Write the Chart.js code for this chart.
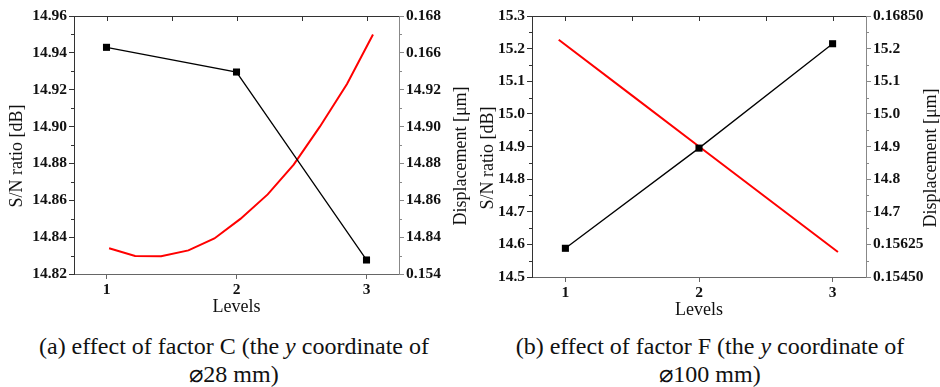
<!DOCTYPE html>
<html>
<head>
<meta charset="utf-8">
<script src="https://cdn.jsdelivr.net/npm/chart.js@4.4.0/dist/chart.umd.min.js"></script>
<style>
  body { margin: 0; background: #fff; width: 940px; height: 387px; position: relative; overflow: hidden; font-family: 'Liberation Serif', serif; }
  canvas { position: absolute; top: 0; }
  #chartC { left: 0; }
  #chartF { left: 470px; }
  .cap { position: absolute; top: 332px; width: 470px; text-align: center; font-size: 24px; line-height: 28px; color: #111; }
</style>
</head>
<body>
<canvas id="chartC" width="470" height="320"></canvas>
<canvas id="chartF" width="470" height="320"></canvas>
<div class="cap" style="left:-1px">(a) effect of factor C (the <i>y</i> coordinate of<br>⌀28 mm)</div>
<div class="cap" style="left:475px">(b) effect of factor F (the <i>y</i> coordinate of<br>⌀100 mm)</div>

<script>
// -----------------------
// Data
// -----------------------

// levels of each factor (x axis)
const levels = [1, 2, 3];

// (a) factor C
const snRatioC = [14.943, 14.9296, 14.8276];
const fitLevelsC = [1.02, 1.22, 1.42, 1.63, 1.83, 2.03, 2.24, 2.44, 2.64, 2.85, 3.05];
const displacementC = [0.15540, 0.15498, 0.15496, 0.15528, 0.15593, 0.15699, 0.15832, 0.15994, 0.16198, 0.16431, 0.16700];
const snTicksC = [14.82, 14.84, 14.86, 14.88, 14.90, 14.92, 14.94, 14.96];
const dispTicksC = [0.154, 0.156, 0.158, 0.160, 0.162, 0.164, 0.166, 0.168];
const dispLabelsC = ['0.154', '14.84', '14.86', '14.88', '14.90', '14.92', '0.166', '0.168'];

// (b) factor F
const snRatioF = [14.588, 14.895, 15.215];
const fitLevelsF = [0.95, 1.5, 2, 2.5, 3.04];
const displacementF = [0.16723, 0.16423, 0.16150, 0.15878, 0.15584];
const snTicksF = [14.5, 14.6, 14.7, 14.8, 14.9, 15.0, 15.1, 15.2, 15.3];
const dispTicksF = [0.1545, 0.15625, 0.158, 0.15975, 0.1615, 0.16325, 0.165, 0.16675, 0.1685];
const dispLabelsF = ['0.15450', '0.15625', '14.7', '14.8', '14.9', '15.0', '15.1', '15.2', '0.16850'];

// -----------------------
// Extra axis bits: top frame, minor ticks, y titles (bottom-to-top on both sides)
// -----------------------
const axisExtras = {
  id: 'axisExtras',
  afterDraw(chart, args, opts) {
    const { ctx, chartArea: a, scales } = chart;
    ctx.save();
    ctx.lineWidth = 1;

    // top frame line with inward ticks every half level
    ctx.strokeStyle = '#333';
    ctx.beginPath();
    ctx.moveTo(a.left, a.top + 0.5);
    ctx.lineTo(a.right, a.top + 0.5);
    for (let v = 1; v <= 3; v += 0.5) {
      const px = Math.round(scales.x.getPixelForValue(v)) + 0.5;
      ctx.moveTo(px, a.top);
      ctx.lineTo(px, a.top + 5);
    }
    ctx.stroke();

    // minor ticks halfway between the labelled ones
    [['y', -1, '#333'], ['y2', 1, '#888']].forEach(([id, dir, col]) => {
      const s = scales[id];
      const x0 = dir < 0 ? s.right : s.left;
      ctx.strokeStyle = col;
      ctx.beginPath();
      for (let i = 0; i < s.ticks.length - 1; i++) {
        const mid = (s.ticks[i].value + s.ticks[i + 1].value) / 2;
        const py = Math.round(s.getPixelForValue(mid)) + 0.5;
        ctx.moveTo(x0, py);
        ctx.lineTo(x0 + dir * 3, py);
      }
      ctx.stroke();
    });

    // y axis titles
    ctx.fillStyle = '#111';
    ctx.font = '18px "Liberation Serif"';
    ctx.textAlign = 'center';
    ctx.textBaseline = 'middle';
    [[opts.leftTitle, opts.leftX], [opts.rightTitle, opts.rightX]].forEach(([text, x]) => {
      ctx.save();
      ctx.translate(x, opts.titleY);
      ctx.rotate(-Math.PI / 2);
      ctx.fillText(text, 0, 0);
      ctx.restore();
    });
    ctx.restore();
  }
};

const tickFont = { family: 'Liberation Serif', size: 15.5, weight: 'bold' };

function makeChart(id, cfg) {
  return new Chart(document.getElementById(id), {
    type: 'line',
    data: {
      datasets: [
        {
          data: levels.map((x, i) => ({ x, y: cfg.sn[i] })),
          yAxisID: 'y',
          borderColor: '#000',
          borderWidth: 1.3,
          pointStyle: 'rect',
          pointRadius: 5,
          pointBackgroundColor: '#000',
          pointBorderWidth: 0
        },
        {
          data: cfg.fitLevels.map((x, i) => ({ x, y: cfg.disp[i] })),
          yAxisID: 'y2',
          borderColor: '#ff0000',
          borderWidth: 2,
          pointRadius: 0
        }
      ]
    },
    options: {
      responsive: false,
      animation: false,
      layout: { padding: { top: cfg.top, left: 0, right: 0, bottom: 0 } },
      plugins: {
        legend: { display: false },
        tooltip: { enabled: false },
        axisExtras: cfg.titles
      },
      scales: {
        x: {
          type: 'linear',
          min: 0.75,
          max: 3.25,
          afterBuildTicks: s => { s.ticks = levels.map(v => ({ value: v })); },
          afterFit: s => { s.height = cfg.xHeight; },
          grid: { drawOnChartArea: false, tickLength: 5, color: '#666' },
          border: { color: '#666', width: 1 },
          ticks: { font: tickFont, color: '#111', padding: 2, callback: v => String(v) },
          title: { display: true, text: 'Levels', color: '#111', font: { family: 'Liberation Serif', size: 18, lineHeight: 1 }, padding: { top: 0, bottom: cfg.xTitlePad } }
        },
        y: {
          type: 'linear',
          position: 'left',
          min: cfg.snTicks[0],
          max: cfg.snTicks[cfg.snTicks.length - 1],
          afterBuildTicks: s => { s.ticks = cfg.snTicks.map(v => ({ value: v })); },
          afterFit: s => { s.width = cfg.leftWidth; },
          grid: { drawOnChartArea: false, tickLength: 5, color: '#333' },
          border: { color: '#333', width: 1 },
          ticks: { font: tickFont, color: '#111', padding: 2, callback: v => v.toFixed(cfg.snDigits) }
        },
        y2: {
          type: 'linear',
          position: 'right',
          min: cfg.dispTicks[0],
          max: cfg.dispTicks[cfg.dispTicks.length - 1],
          afterBuildTicks: s => { s.ticks = cfg.dispTicks.map(v => ({ value: v })); },
          afterFit: s => { s.width = cfg.rightWidth; },
          grid: { drawOnChartArea: false, tickLength: 5, color: '#888' },
          border: { color: '#888', width: 1 },
          ticks: { font: tickFont, color: '#111', padding: 2, callback: (v, i) => cfg.dispLabels[i] }
        }
      }
    },
    plugins: [axisExtras]
  });
}

// Render the charts
const chartC = makeChart('chartC', {
  sn: snRatioC, fitLevels: fitLevelsC, disp: displacementC,
  snTicks: snTicksC, snDigits: 2, dispTicks: dispTicksC, dispLabels: dispLabelsC,
  top: 16, xHeight: 46, xTitlePad: 4, leftWidth: 74, rightWidth: 71,
  titles: { leftTitle: 'S/N ratio [dB]', rightTitle: 'Displacement [μm]', leftX: 17, rightX: 461, titleY: 156 }
});

const chartF = makeChart('chartF', {
  sn: snRatioF, fitLevels: fitLevelsF, disp: displacementF,
  snTicks: snTicksF, snDigits: 1, dispTicks: dispTicksF, dispLabels: dispLabelsF,
  top: 16, xHeight: 43, xTitlePad: 1, leftWidth: 62, rightWidth: 74,
  titles: { leftTitle: 'S/N ratio [dB]', rightTitle: 'Displacement [μm]', leftX: 18, rightX: 461.5, titleY: 158 }
});
</script>
</body>
</html>
